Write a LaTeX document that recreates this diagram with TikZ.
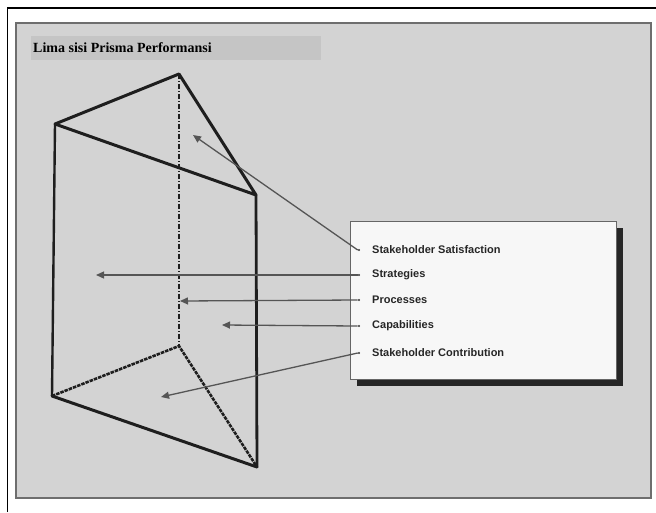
\documentclass[tikz,border=0pt]{standalone}
\usepackage{fontspec}
\setmainfont{Liberation Serif}
\setsansfont{Liberation Sans}
\usetikzlibrary{arrows.meta}
\definecolor{panel}{HTML}{D3D3D3}
\definecolor{panelrule}{HTML}{6E6E6E}
\definecolor{titleband}{HTML}{C5C5C5}
\definecolor{arrowgray}{HTML}{555555}
\definecolor{edge}{HTML}{1E1E1E}
\tikzset{
  prismedge/.style={draw=edge, line width=3pt, line join=round, line cap=round},
  hiddenedge/.style={draw=edge, line width=2.6pt, dash pattern=on 3.5pt off 1pt},
  backedge/.style={draw=edge, line width=1.8pt, dash pattern=on 5pt off 2pt on 1pt off 2pt},
  pointer/.style={draw=arrowgray, line width=1.3pt, -{Triangle[length=8pt,width=7pt]}},
  itemtext/.style={anchor=west, inner sep=0pt, font=\sffamily\bfseries\fontsize{11}{13}\selectfont, text=black!85},
  bulletdot/.style={circle, fill=black!80, inner sep=0pt, minimum size=2.2pt},
}
\begin{document}
\begin{tikzpicture}[x=1pt, y=-1pt]
\useasboundingbox (0,0) rectangle (656,512);
\fill[white] (0,0) rectangle (656,512);
% outer frame lines
\draw[black, line width=1.6pt] (7.5,512) -- (7.5,8) -- (656,8);
% grey panel
\fill[panel] (16,23) rectangle (651,498);
\draw[panelrule, line width=2.2pt] (16,23) rectangle (651,498);
% title band
\fill[titleband] (31,36) rectangle (321,60);
\node[anchor=west, inner sep=0pt, font=\bfseries\fontsize{14}{16}\selectfont] (title) at (33,48) {Lima sisi Prisma Performansi};
% prism vertices
\coordinate (tb) at (179,74);
\coordinate (tl) at (55,124);
\coordinate (tf) at (256,195);
\coordinate (bb) at (179,346);
\coordinate (bl) at (52,396);
\coordinate (bf) at (257,467);
% hidden edges
\draw[backedge] (tb) -- (bb);
\draw[hiddenedge] (bl) -- (bb) -- (bf);
% visible edges
\draw[prismedge] (tl) -- (tb) -- (tf) -- cycle;
\draw[prismedge, line width=2.4pt] (tl) -- (bl);
\draw[prismedge, line width=2.8pt] (tf) -- (bf);
\draw[prismedge] (bl) -- (bf);
% legend box with shadow
\fill[black!85] (357,228) rectangle (623,386);
\fill[white!97!black] (350,221) rectangle (616,379);
\draw[black!60, line width=1pt] (350,221) rectangle (616,379);
% items
\node[bulletdot] (b1) at (359,250) {};
\node[bulletdot] (b2) at (359,275) {};
\node[bulletdot] (b3) at (359,300) {};
\node[bulletdot] (b4) at (359,326) {};
\node[bulletdot] (b5) at (359,353) {};
\node[itemtext] (t1) at (372,250) {Stakeholder Satisfaction};
\node[itemtext] (t2) at (372,275) {Strategies};
\node[itemtext] (t3) at (372,300) {Processes};
\node[itemtext] (t4) at (372,326) {Capabilities};
\node[itemtext] (t5) at (372,353) {Stakeholder Contribution};
% targets
\coordinate (g1) at (193,135);
\coordinate (g2) at (96,275);
\coordinate (g3) at (180,301);
\coordinate (g4) at (222,325);
\coordinate (g5) at (161,397);
% pointers
\draw[pointer] (b1.west) -- (g1);
\draw[pointer] (b2.west) -- (g2);
\draw[pointer] (b3.west) -- (g3);
\draw[pointer] (b4.west) -- (g4);
\draw[pointer] (b5.west) -- (g5);
\end{tikzpicture}
\end{document}
